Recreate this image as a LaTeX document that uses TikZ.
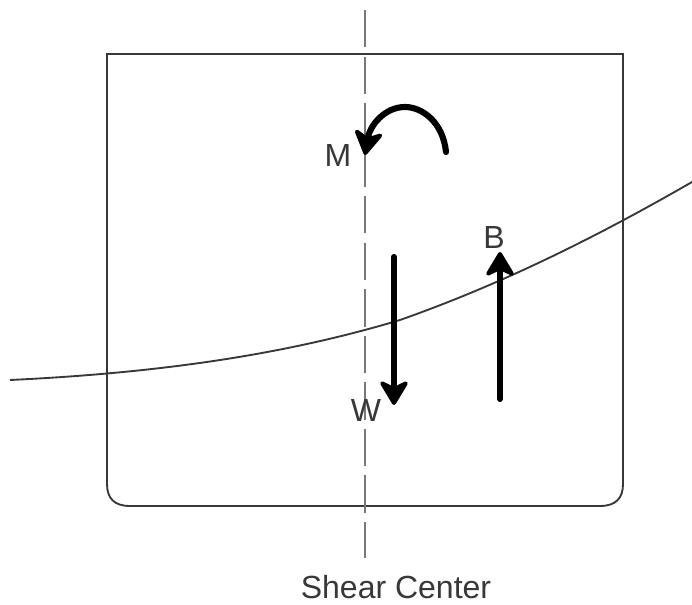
\documentclass[tikz,border=0pt]{standalone}
\usepackage{fontspec}
\setmainfont{Liberation Sans}
\usepackage{xcolor}
\definecolor{hullgray}{HTML}{383838}
\definecolor{axisgray}{HTML}{787878}
\usepackage{tikz}
\usetikzlibrary{arrows.meta}
\tikzset{
    label/.style = {font=\fontsize{24}{28}\selectfont, text=hullgray, inner sep=0pt},
    force/.style = {-{Stealth[length=21pt, width=25pt, inset=6pt, round, line width=3pt]}, line width=4.6pt,
                    line cap=round, color=black},
}

\begin{document}
\begin{tikzpicture}[x=0.75pt, y=-0.75pt]
        \useasboundingbox (0,0) rectangle (692,605);
        % hull section
        \draw[line width=1.4pt, hullgray] (107,54) -- (107,484)
              .. controls (107,498) and (114,506) .. (130,506)
              -- (600,506) .. controls (616,506) and (623,498) .. (623,484) -- (623,54) -- cycle;
        % shear center line
        \draw[line width=2pt, axisgray, dash pattern=on 28pt off 6.9pt] (365,10) -- (365,558);
        % wave profile
        \draw[line width=1.4pt, hullgray] (10,380) .. controls (180,372) and (300,350) .. (400,320)
              .. controls (505,283) and (600,235) .. (692,182);
        % moment
        \draw[force] (446,152) .. controls (443,122) and (422,107) .. (405,107)
              .. controls (385,107) and (370,125) .. (365,155);
        % weight and buoyancy
        \draw[force] (394,257) -- (394,405);
        \draw[force] (500,399) -- (500,252);
        \node[label] (labelM) at (338,155) {M};
        \node[label] (labelB) at (494,237) {B};
        \node[label] (labelW) at (366,410) {W};
        \node[label] (labelShear) at (396,587) {Shear Center};
      \end{tikzpicture}
\end{document}
